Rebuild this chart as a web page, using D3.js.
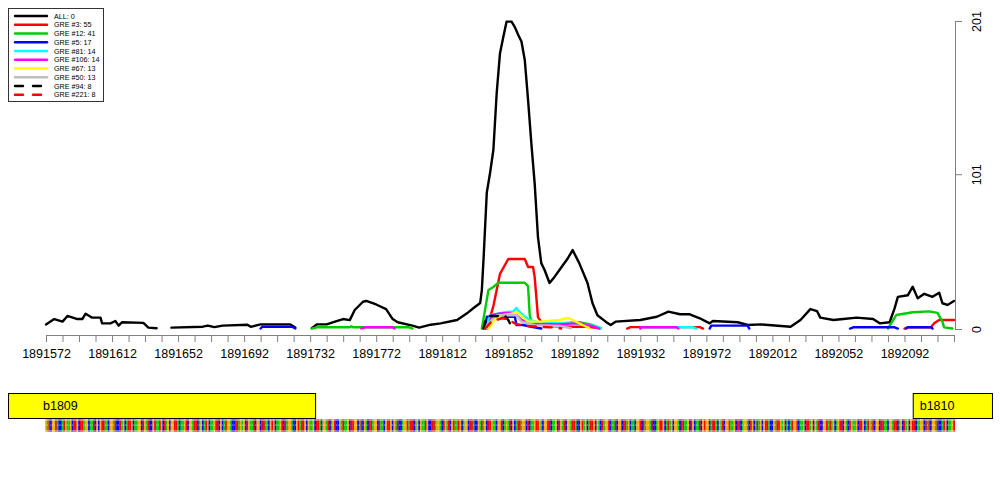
<!DOCTYPE html>
<html>
<head>
<meta charset="utf-8">
<script src="https://cdn.jsdelivr.net/npm/d3@7"></script>
<style>
  body { margin: 0; background: #fff; }
  svg { display: block; font-family: "Liberation Sans", Arial, sans-serif; }
</style>
</head>
<body>
<svg id="chart" width="1000" height="500"></svg>
<script>
// genomic window + y range
const xDomain = [1891572, 1892122];
const yTicks = [0, 101, 201];

// coverage, all sequences (null = gap)
const allPos = [1891572,1891577,1891582,1891585,1891591,1891594,1891596,1891600,1891605,1891606,1891611,1891614,1891616,1891618,1891631,1891634,1891639,1891643,
  1891648,1891667,1891670,1891674,1891679,1891694,1891696,1891702,1891720,1891723,1891728,
  1891733,1891736,1891742,1891748,1891752,1891756,1891759,1891764,1891766,1891772,1891778,1891782,1891785,1891794,1891798,1891805,1891811,1891821,1891827,1891831,1891835,
  1891836,1891837,1891839,1891841,1891843,1891845,1891847,1891849,1891851,1891854,1891856,1891858,1891860,1891862,1891864,1891866,1891868,1891870,1891872,1891874,1891877,
  1891880,1891883,1891888,1891891,1891895,1891900,1891903,1891906,1891911,1891914,1891917,1891932,1891942,1891949,1891956,1891962,1891968,1891974,1891976,1891991,1891997,
  1892005,1892023,1892029,1892035,1892039,1892041,1892049,1892055,1892063,1892073,1892077,1892083,1892086,1892088,1892094,1892097,1892100,1892104,1892109,1892113,1892115,1892118,1892122];
const allVal = [3,6.5,4.8,8.5,6.5,6.5,10,7.4,7.4,3.7,3.7,5.2,2.2,4.4,4,0.9,0.5,null,
  0.9,1.5,2.2,1.2,2.2,2.8,1.4,3,3,0.9,null,
  0.5,3,3,5.2,6.5,5.8,12.4,17.8,18.3,16,13,6.5,4.4,2.2,0.9,2.8,3.7,5.9,10.2,13.7,17,
  25.4,45,89,102,117,154,180,190.6,200.6,200.6,197,192,187.6,175.6,149.5,121,95,60,43,38.5,30,
  34,38.5,46,51.5,43,30,17,9,4.8,2.6,4.8,5.9,8,11.3,9.6,9.6,7,3.7,5.2,4.4,2.6,
  3,1.5,5.9,13,11.7,7.4,5.9,6.5,7.4,6.5,3.7,4.4,13.5,21,22,27.6,20,23,21,23.7,16.8,15.7,18.3];

// GRE #3
const gre3Pos = [1891839,1891843,1891847,1891852,1891862,1891864,1891867,1891868,1891870,1891872,1891876,1891890,1891900,1891908,null,
  1891924,1891926,1891968,1891970,null,1892092,1892094,1892108,1892110,1892113,1892122];
const gre3Val = [0.3,15,36,45.7,45.7,40.5,40.5,34,7.8,4.6,2,1.5,1.5,0.5,null,0.3,1.2,1.2,0.3,null,0.3,1.1,1.1,3.7,5.9,5.9];
// GRE #12
const gre12Pos = [1891733,1891736,1891756,1891757,1891758,1891792,1891794,null,
  1891836,1891840,1891843,1891846,1891862,1891864,1891865,1891866,1891880,1891895,1891903,1891908,null,
  1892082,1892087,1892097,1892107,1892112,1892115,1892116,1892121];
const gre12Val = [0.3,1.1,1.1,1.8,1.1,1.1,0.3,null,0.3,25.4,27.4,30.2,30.2,28,9,4.8,3.5,4.5,2.6,0.5,null,0.3,9.1,10.9,11.5,10.5,4.8,1.1,0.3];
// GRE #5
const gre5Pos = [1891702,1891703,1891721,1891723,null,1891838,1891839,1891856,1891857,1891861,1891866,1891872,null,
  1891974,1891975,1891997,1891998,null,1892059,1892061,1892086,1892088,null,1892093,1892094,1892108,1892109];
const gre5Val = [0.3,1.5,1.5,0.3,null,0.3,8,8,2.6,2.6,1.5,0.3,null,0.3,2.2,2.2,0.3,null,0.3,1.1,1.1,0.3,null,0.3,1.1,1.1,0.3];
// GRE #81
const gre81Pos = [1891839,1891841,1891850,1891855,1891857,1891858,1891861,1891865,1891871,1891895,1891904,1891908,null,1891932,1891933,1891964,1891966];
const gre81Val = [0.3,9,11,11.5,13.7,12,9,5.9,3.9,3.5,2,0.5,null,0.3,1.1,1.1,0.3];
// GRE #106
const gre106Pos = [1891763,1891765,1891782,1891783,null,1891840,1891842,1891847,1891853,1891857,1891860,1891865,1891883,1891895,1891904,1891907,null,1891932,1891933,1891954,1891955];
const gre106Val = [0.3,1.1,1.1,0.3,null,0.3,9,10.2,10.5,9,6,3.5,3,3.8,1.5,0.3,null,0.3,1.1,1.1,0.3];
// GRE #67
const gre67Pos = [1891840,1891843,1891848,1891858,1891864,1891871,1891883,1891888,1891891,1891897,1891901];
const gre67Val = [0.3,5,9,10.5,4.8,4.8,5.9,7.2,5.9,2.6,0.6];
// GRE #50
const gre50Pos = [1891837,1891843,1891845,1891857,1891860,1891868,1891883,1891890];
const gre50Val = [0.3,7,9,9,4.8,2.5,2,0.5];
// GRE #94
const gre94Pos = [1891837,1891839,1891850,1891852,1891854,1891855];
const gre94Val = [0.3,8.5,8.5,5.9,1.5,0.3];
// GRE #221
const gre221Pos = [1891838,1891842,1891848,1891852,1891856,1891862,1891870,1891880,1891884];
const gre221Val = [0.3,5,7,6.5,3.5,2,1.5,1,0.3];

const legendLabels = ["ALL: 0","GRE #3: 55","GRE #12: 41","GRE #5: 17","GRE #81: 14","GRE #106: 14","GRE #67: 13","GRE #50: 13","GRE #94: 8","GRE #221: 8"];
const seriesColors = ["#000000","#ff0000","#00cd00","#0000ff","#00ffff","#ff00ff","#ffff00","#bebebe","#000000","#ff0000"];
const seriesDashed = [false,false,false,false,false,false,false,false,true,true];

// genes
const geneNames = ["b1809", "b1810"];
const geneStart = [1891549, 1892097];
const geneEnd = [1891735, 1892145];

// sequence under the track, starting at xDomain[0]
const seqStart = 1891572;
const seq =
  "GATCGGTACCATGAAGCTTGCTTAGGCAATCGCGTTAACGGATCCTAGCA" +
  "TTGCAAGGCTGATCCGTAATGCTAGCGGTTACAAGTCGGATTCAGCATGC" +
  "AAGTTCGCATGGACCTTAGAGCTGAATCGGCTTAACGTGCAAGTCTAGGA" +
  "CCGTATTGCGAAGCTTACGGATCAGTCCGATAAGCTTGGCATCGACTTAG" +
  "GCTAACGTTGCGATCCAGGTATTCAGCGAATGCCTTAGGACTGATCGTAA" +
  "TGCAGGCTTACCGATAGCTTGAACGGTCAGATCGCATTAGGCTCAAGTTG" +
  "ACGGTTCAAGCTGATCGGATTACCGTAGCATTGCGACTAGGTCAATCGGC" +
  "TTAGCAACGGTCTAGGATCCAGTTGCATAGCGGACTTAAGCTGCAATCGT" +
  "GGCATTACGATCGGTAAGCTTCAGGACTGCATAGCGTTACCGATTGAGCA" +
  "CATGGTCAAGCTTAGCGATCCGGTATAGCAGTTCGACTGAAGCTTGCATG" +
  "ATCGGCTTAACGGATTCAGCTAGCGTTCAAGGCTATCGGATCCATGCAAG" +
  "TCGAAGCTTGCGATCAGGCTTAACGGTACCGATTGCA";
const baseColors = { A: "#00cc00", C: "#0000ff", G: "#ffa500", T: "#ff0000" };

const svg = d3.select("#chart");
const x = d3.scaleLinear().domain(xDomain).range([46, 954]);
const y = d3.scaleLinear().domain([0, 201]).range([329, 21]);

const series = [
  [allPos, allVal], [gre3Pos, gre3Val], [gre12Pos, gre12Val], [gre5Pos, gre5Val], [gre81Pos, gre81Val],
  [gre106Pos, gre106Val], [gre67Pos, gre67Val], [gre50Pos, gre50Val], [gre94Pos, gre94Val], [gre221Pos, gre221Val]
];

const line = d3.line()
  .defined(d => d[0] != null && d[1] != null)
  .x(d => x(d[0]))
  .y(d => y(d[1]));

series.forEach((s, i) => {
  const pts = s[0].map((p, j) => [p, s[1][j]]);
  svg.append("path")
    .datum(pts)
    .attr("fill", "none")
    .attr("stroke", seriesColors[i])
    .attr("stroke-width", 2.4)
    .attr("stroke-linejoin", "round")
    .attr("stroke-linecap", "round")
    .attr("stroke-dasharray", seriesDashed[i] ? "8,8" : null)
    .attr("d", line);
});

// bottom axis
const xTicks = d3.range(xDomain[0], xDomain[1] + 1, 10);
const xAxis = svg.append("g")
  .attr("transform", "translate(0,335)")
  .call(d3.axisBottom(x).tickValues(xTicks).tickSize(7).tickSizeOuter(0)
    .tickFormat(d => (d - xDomain[0]) % 40 === 0 ? d : ""));
xAxis.select(".domain").attr("stroke", "#808080");
xAxis.selectAll(".tick line").attr("stroke", "#808080");
xAxis.selectAll("text").attr("font-size", 12.5).attr("font-family", "Liberation Sans, Arial, sans-serif")
  .attr("fill", "#000").attr("dy", "1.05em");

// right axis
const yAxis = svg.append("g")
  .attr("transform", "translate(955,0)")
  .call(d3.axisRight(y).tickValues(yTicks).tickSize(7).tickSizeOuter(0).tickFormat(d3.format("d")));
yAxis.select(".domain").attr("stroke", "#808080");
yAxis.selectAll(".tick line").attr("stroke", "#808080");
yAxis.selectAll("text")
  .attr("font-size", 12.5).attr("font-family", "Liberation Sans, Arial, sans-serif").attr("fill", "#000")
  .attr("x", 0).attr("dy", 0)
  .attr("text-anchor", "middle")
  .attr("transform", "translate(22,0) rotate(-90)")
  .attr("dominant-baseline", "central");

// legend
const lg = svg.append("g");
lg.append("rect").attr("x", 8.5).attr("y", 8.5).attr("width", 95).attr("height", 93)
  .attr("fill", "#fff").attr("stroke", "#333").attr("stroke-width", 1);
legendLabels.forEach((lab, i) => {
  const ly = 16 + i * 8.75;
  lg.append("line").attr("x1", 15).attr("x2", 47).attr("y1", ly).attr("y2", ly)
    .attr("stroke", seriesColors[i]).attr("stroke-width", 2.4)
    .attr("stroke-linecap", "round")
    .attr("stroke-dasharray", seriesDashed[i] ? "8,10" : null);
  lg.append("text").attr("x", 54).attr("y", ly).attr("dominant-baseline", "central")
    .attr("font-size", 7.2).attr("fill", "#000").text(lab);
});

// sequence strip
const seqG = svg.append("g");
const bw = x(seqStart + 1) - x(seqStart);
seq.split("").forEach((b, i) => {
  const p = seqStart + i;
  if (p > xDomain[1]) return;
  const bx = x(p) - bw / 2;
  seqG.append("rect").attr("x", bx).attr("y", 419).attr("width", bw + 0.2).attr("height", 13)
    .attr("fill", baseColors[b]);
  seqG.append("rect").attr("x", bx).attr("y", 419).attr("width", bw + 0.2).attr("height", 2)
    .attr("fill", "#fff").attr("opacity", 0.45);
  seqG.append("rect").attr("x", bx).attr("y", 430).attr("width", bw + 0.2).attr("height", 2)
    .attr("fill", "#fff").attr("opacity", 0.45);
  if (b === "C" || b === "G" || b === "A")
    seqG.append("rect").attr("x", bx + bw * 0.3).attr("y", 424.5).attr("width", bw * 0.4).attr("height", 1.2)
      .attr("fill", "#fff").attr("opacity", 0.8);
});

// gene boxes
const gg = svg.append("g");
gg.append("clipPath").attr("id", "geneclip").append("rect")
  .attr("x", 8).attr("y", 380).attr("width", 984).attr("height", 50);
geneNames.forEach((g, i) => {
  const gx0 = Math.max(8, x(geneStart[i]));
  const gx1 = Math.min(992, x(geneEnd[i]));
  gg.append("rect").attr("x", gx0 + 0.5).attr("y", 393.5).attr("width", gx1 - gx0).attr("height", 25)
    .attr("fill", "#ffff00").attr("stroke", "#000").attr("stroke-width", 1);
  gg.append("text").attr("x", gx0 + (i === 0 ? 35 : 7)).attr("y", 410)
    .attr("font-size", 12.5).attr("fill", "#000").text(g);
});
</script>
</body>
</html>
